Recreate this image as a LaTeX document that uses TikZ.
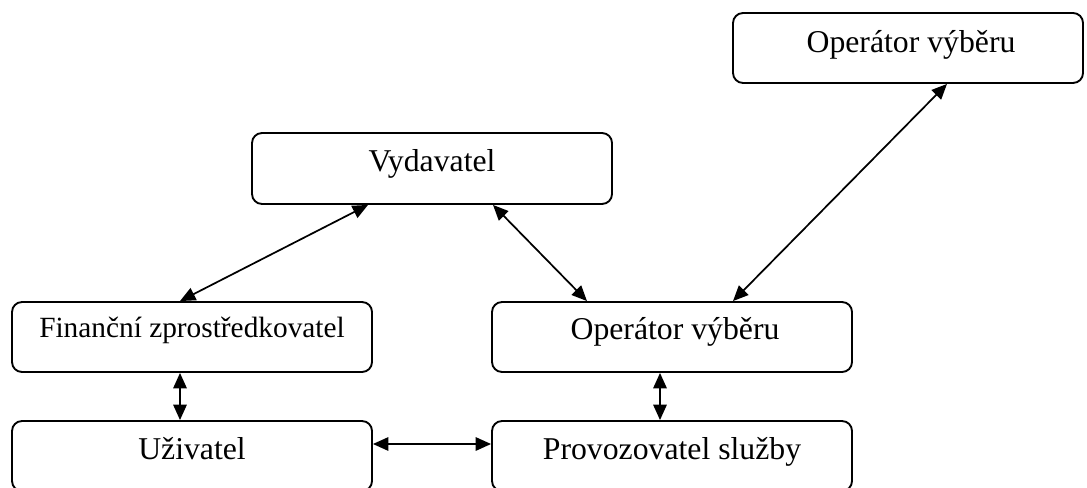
\documentclass[tikz,border=0pt]{standalone}
\usepackage{fontspec}
\setmainfont{Liberation Serif}
\usetikzlibrary{arrows.meta,calc}

\begin{document}
\begin{tikzpicture}[x=0.75pt,y=-0.75pt,
  box/.style={draw=black,line width=1.4pt,rounded corners=7.5pt,fill=white,
    minimum width=360*0.75pt,minimum height=70*0.75pt,inner sep=0pt},
  lbl/.style={anchor=base,font=\fontsize{23.8pt}{28pt}\selectfont,inner sep=0pt},
  smalllbl/.style={lbl,font=\fontsize{22pt}{26pt}\selectfont},
  link/.style={line width=1.3pt,{Triangle[length=11.5pt,width=10pt]}-{Triangle[length=11.5pt,width=10pt]}}]

\useasboundingbox (0,0) rectangle (1087,488);
\clip (0,0) rectangle (1087,488);

% boxes
\node[box,minimum width=350*0.75pt] (ovtop) at (908,48) {};
\node[box,minimum height=71*0.75pt] (vyd) at (432,168.5) {};
\node[box] (fin) at (192,337) {};
\node[box] (ovmid) at (672,337) {};
\node[box] (uzi) at (192,456) {};
\node[box] (prov) at (672,456) {};

% labels, set in the upper part of each box
\node[lbl] (tovtop) at ($(ovtop.north)+(3,40)$) {Operátor výběru};
\node[lbl] (tvyd) at ($(vyd.north)+(0,39)$) {Vydavatel};
\node[smalllbl] (tfin) at ($(fin.north)+(0,36)$) {Finanční zprostředkovatel};
\node[lbl] (tovmid) at ($(ovmid.north)+(3,38)$) {Operátor výběru};
\node[lbl] (tuzi) at ($(uzi.north)+(0,39)$) {Uživatel};
\node[lbl] (tprov) at ($(prov.north)+(0,39)$) {Provozovatel služby};

% connectors
\draw[link] ($(fin.north)+(-12,0)$) -- ($(vyd.south)+(-64,0)$);
\draw[link] ($(vyd.south)+(61,0)$) -- ($(ovmid.north)+(-85,0)$);
\draw[link] ($(ovtop.south)+(39,0)$) -- ($(ovmid.north)+(61,0)$);
\draw[link] ($(fin.south)+(-12,0)$) -- ($(uzi.north)+(-12,0)$);
\draw[link] ($(ovmid.south)+(-12,0)$) -- ($(prov.north)+(-12,0)$);
\draw[link] ($(uzi.east)+(0,-12)$) -- ($(prov.west)+(0,-12)$);
\end{tikzpicture}
\end{document}
